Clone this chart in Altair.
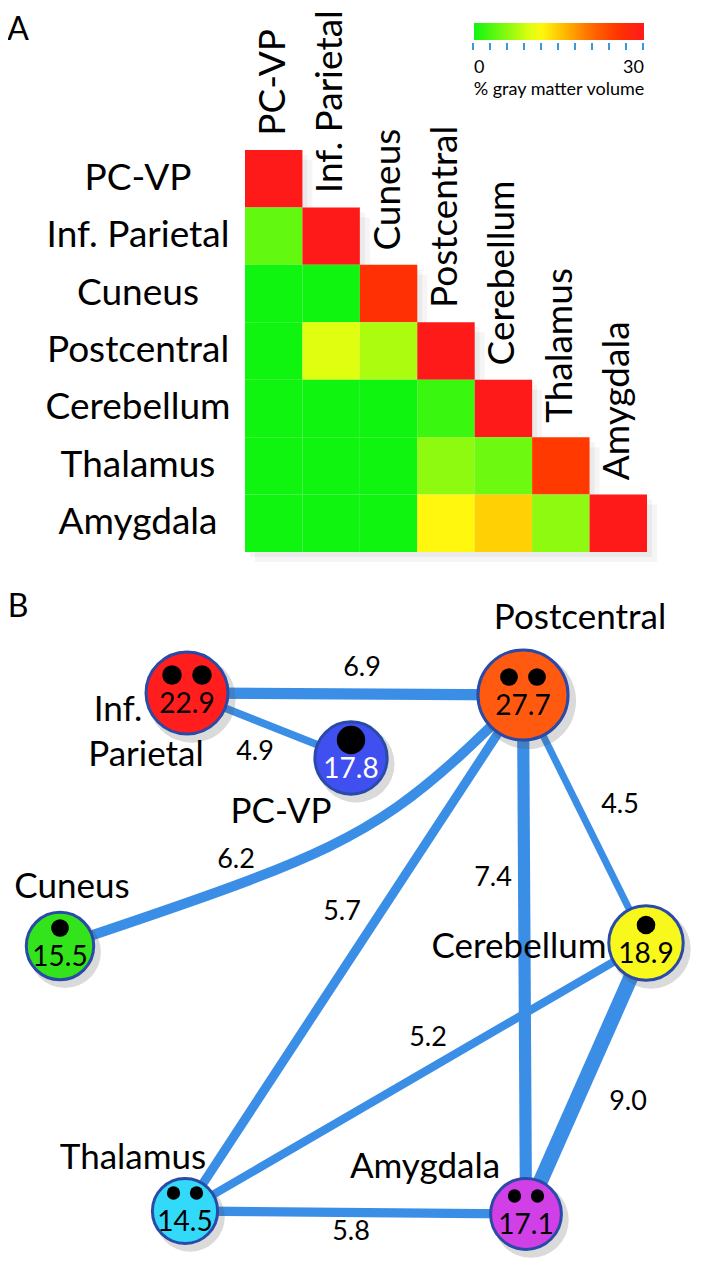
import altair as alt
import pandas as pd

# ---------------- data (panel A) ----------------
regions = ["PC-VP", "Inf. Parietal", "Cuneus", "Postcentral", "Cerebellum", "Thalamus", "Amygdala"]
# lower triangle, % gray matter volume (row i, columns 0..i)
gm_pc_vp = [30]
gm_inf_parietal = [4, 30]
gm_cuneus = [0, 0, 26]
gm_postcentral = [0, 10, 7.5, 30]
gm_cerebellum = [0, 0, 0, 2, 30]
gm_thalamus = [0, 0, 0, 6, 4.5, 25]
gm_amygdala = [0, 0, 0, 12, 14.5, 6, 30]
gm_rows = [gm_pc_vp, gm_inf_parietal, gm_cuneus, gm_postcentral, gm_cerebellum, gm_thalamus, gm_amygdala]
legend_ticks = [0, 3, 6, 9, 12, 15, 18, 21, 24, 27, 30]
legend_labels = [0, 30]

# ---------------- data (panel B) ----------------
node_names = ["Inf. Parietal", "Postcentral", "PC-VP", "Cuneus", "Cerebellum", "Thalamus", "Amygdala"]
node_values = [22.9, 27.7, 17.8, 15.5, 18.9, 14.5, 17.1]
node_dots = [2, 2, 1, 1, 1, 2, 2]
edge_source = ["Inf. Parietal", "Inf. Parietal", "Cuneus", "Postcentral", "Postcentral",
               "Postcentral", "Cerebellum", "Cerebellum", "Thalamus"]
edge_target = ["Postcentral", "PC-VP", "Postcentral", "Thalamus", "Amygdala",
               "Cerebellum", "Thalamus", "Amygdala", "Amygdala"]
edge_values = [6.9, 4.9, 6.2, 5.7, 7.4, 4.5, 5.2, 9.0, 5.8]

# ---------------- layout (page pixels) ----------------
node_x = [187, 523, 351, 60, 646, 185, 526]
node_y = [693, 695, 758, 946, 943, 1211, 1214]
node_fill = ["#ff1d1d", "#ff5a10", "#3f4ff0", "#33e31c", "#f8f81c", "#33d9f9", "#d040e6"]
node_text_color = ["black", "black", "white", "black", "black", "black", "black"]
dot_radius = [11, 10, 16, 10, 10.5, 7.5, 7.5]
name_lines = ["Inf.", "Parietal", "Postcentral", "PC-VP", "Cuneus", "Cerebellum", "Thalamus", "Amygdala"]
name_x = [118, 146, 580, 281, 72, 519, 133, 425]
name_y = [710, 755, 618, 812, 887, 947, 1158, 1167]
edge_label_x = [362, 255, 236, 342, 493, 620, 428, 628, 351]
edge_label_y = [668, 752, 860, 912, 878, 805, 1038, 1102, 1232]
curve_x = [60, 250, 397, 523]
curve_y = [946, 880, 807, 695]

FONT = "Lato"
EDGE_COLOR = "#3a8ee6"

# ---------------- tables ----------------
cells = pd.DataFrame([
    {"row": regions[i], "col": regions[j], "value": v}
    for i, r in enumerate(gm_rows) for j, v in enumerate(r)
])
diag = pd.DataFrame({"row": regions, "col": regions})
ticks_df = pd.DataFrame({"t": legend_ticks})

nodes = pd.DataFrame({"name": node_names, "value": node_values, "px": node_x, "py": node_y,
                      "tc": node_text_color})
pos = {n: (x, y) for n, x, y in zip(node_names, node_x, node_y)}

edge_rows = []
for k, (s, t, w) in enumerate(zip(edge_source, edge_target, edge_values)):
    if s == "Cuneus":
        continue
    for o, n in enumerate([s, t]):
        edge_rows.append({"edge": k, "o": o, "w": w, "px": pos[n][0], "py": pos[n][1]})
edges = pd.DataFrame(edge_rows)
curve = pd.DataFrame({"edge": 2, "o": list(range(len(curve_x))), "w": edge_values[2],
                      "px": curve_x, "py": curve_y})
edge_labels = pd.DataFrame({"label": [f"{v:.1f}" for v in edge_values],
                            "px": edge_label_x, "py": edge_label_y})

dot_rows = []
for n, c, r, x, y in zip(node_names, node_dots, dot_radius, node_x, node_y):
    offs = [0] if c == 1 else [-(r + 4), r + 4]
    for d in offs:
        dot_rows.append({"px": x + d, "py": y - 18, "s": 3.1416 * r * r})
dots = pd.DataFrame(dot_rows)
names_df = pd.DataFrame({"label": name_lines, "px": name_x, "py": name_y})

# ---------------- scales ----------------
XB = alt.Scale(domain=regions, range=[237, 639], paddingInner=0, paddingOuter=0)
YB = alt.Scale(domain=regions, range=[142, 544], paddingInner=0, paddingOuter=0)
PX = alt.Scale(domain=[8, 698], range=[0, 690])
PY = alt.Scale(domain=[8, 1272], range=[0, 1264])
CS = alt.Scale(domain=[0, 11.5, 15.5, 21, 25.5, 30],
               range=["#10f510", "#ffff10", "#ffc000", "#ff6600", "#ff3300", "#ff1a1a"],
               interpolate="rgb")

xb = alt.X("col:N", scale=XB, axis=None)
yb = alt.Y("row:N", scale=YB, axis=None)
xp = alt.X("px:Q", scale=PX, axis=None)
yp = alt.Y("py:Q", scale=PY, axis=None)

# ---------------- panel A ----------------
shadow1 = alt.Chart(cells).mark_rect(color="#777777", opacity=0.07, xOffset=10, yOffset=10).encode(x=xb, y=yb)
shadow2 = alt.Chart(cells).mark_rect(color="#777777", opacity=0.08, xOffset=5, yOffset=5).encode(x=xb, y=yb)
heat = alt.Chart(cells).mark_rect().encode(
    x=xb, y=yb,
    color=alt.Color("value:Q", scale=CS, legend=alt.Legend(
        orient="none", legendX=465, legendY=15, direction="horizontal",
        gradientLength=170, gradientThickness=17, gradientStrokeWidth=0,
        values=legend_labels, labelFont=FONT, labelFontSize=18, labelColor="black",
        labelOffset=19, labelAlign="center",
        title="% gray matter volume", titleOrient="bottom", titleAnchor="middle",
        titleFont=FONT, titleFontSize=18, titleFontWeight="normal", titleColor="black",
        titlePadding=4)),
)
row_labels = alt.Chart(diag).mark_text(font=FONT, fontSize=37, align="center", baseline="middle",
                                       color="black").encode(
    x=alt.value(130), y=yb, text="row:N")
col_labels = alt.Chart(diag).mark_text(font=FONT, fontSize=37, align="left", baseline="middle",
                                       angle=270, yOffset=-43, color="black").encode(
    x=xb, y=yb, text="col:N")
tick_marks = alt.Chart(ticks_df).mark_rule(color="#3a9ad9", strokeWidth=2).encode(
    x=alt.X("t:Q", scale=alt.Scale(domain=[0, 30], range=[465, 635]), axis=None),
    y=alt.value(35), y2=alt.value(42))
letters = alt.Chart(pd.DataFrame({"label": ["A", "B"], "px": [18, 18], "py": [30, 607]})).mark_text(
    font=FONT, fontSize=32, align="center", baseline="middle", color="black").encode(
    x=xp, y=yp, text="label:N")

# ---------------- panel B ----------------
SW = alt.Scale(domain=[4.5, 9.0], range=[7, 15])
edge_lines = alt.Chart(edges).mark_line(color=EDGE_COLOR).encode(
    x=xp, y=yp, detail="edge:N", order="o:Q",
    strokeWidth=alt.StrokeWidth("w:Q", scale=SW, legend=None))
curve_line = alt.Chart(curve).mark_line(color=EDGE_COLOR, interpolate="natural").encode(
    x=xp, y=yp, order="o:Q",
    strokeWidth=alt.StrokeWidth("w:Q", scale=SW, legend=None))
node_shadow = alt.Chart(nodes).mark_circle(color="#555555", opacity=0.22, xOffset=5, yOffset=6).encode(
    x=xp, y=yp,
    size=alt.Size("value:Q", scale=alt.Scale(domain=[0, 30], range=[0, 10000]), legend=None))
node_marks = alt.Chart(nodes).mark_circle(opacity=1, stroke="#2a4aa8", strokeWidth=3).encode(
    x=xp, y=yp,
    size=alt.Size("value:Q", scale=alt.Scale(domain=[0, 30], range=[0, 8800]), legend=None),
    fill=alt.Fill("name:N", scale=alt.Scale(domain=node_names, range=node_fill), legend=None))
dot_marks = alt.Chart(dots).mark_circle(color="black", opacity=1).encode(
    x=xp, y=yp, size=alt.Size("s:Q", scale=None, legend=None))
node_nums = alt.Chart(nodes).mark_text(font=FONT, fontSize=28, align="center", baseline="middle",
                                       dy=12).encode(
    x=xp, y=yp, text=alt.Text("value:Q", format=".1f"),
    color=alt.Color("tc:N", scale=None, legend=None))
name_marks = alt.Chart(names_df).mark_text(font=FONT, fontSize=35, align="center", baseline="middle",
                                           color="black").encode(x=xp, y=yp, text="label:N")
edge_text = alt.Chart(edge_labels).mark_text(font=FONT, fontSize=27, align="center", baseline="middle",
                                             color="black").encode(x=xp, y=yp, text="label:N")

chart = alt.layer(
    shadow1, shadow2, heat, row_labels, col_labels, tick_marks, letters,
    edge_lines, curve_line, node_shadow, node_marks, dot_marks, node_nums, name_marks, edge_text,
).resolve_scale(
    x="independent", y="independent", size="independent", color="independent"
).properties(
    width=690, height=1264, autosize=alt.AutoSizeParams(type="none"), padding=0,
    background="white",
).configure_view(stroke=None)

chart.save("out.html", embed_options={"renderer": "svg", "actions": False})
